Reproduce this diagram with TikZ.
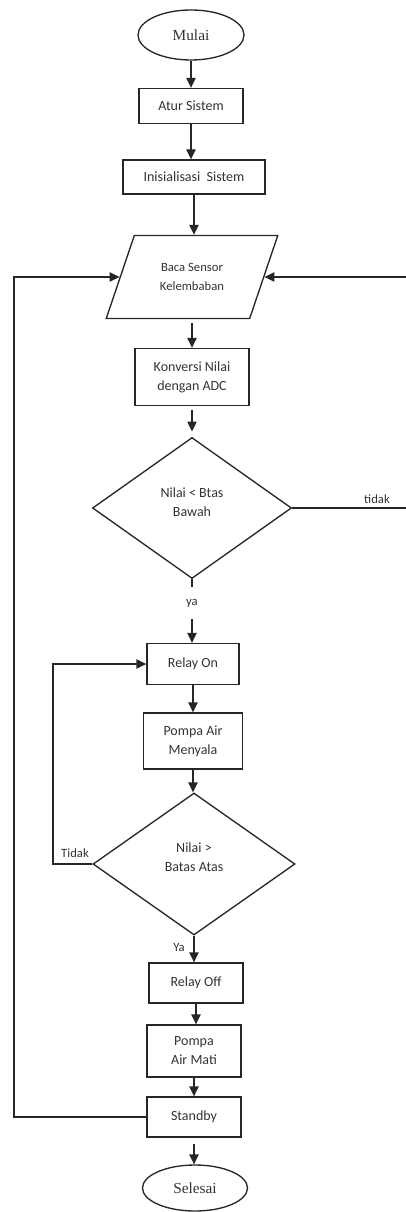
\documentclass[tikz,border=0pt]{standalone}
\usepackage{fontspec}
\setmainfont{Liberation Serif}
\newfontfamily\carl{Carlito}
\usetikzlibrary{arrows.meta,shapes.geometric}
\begin{document}
\begin{tikzpicture}[x=0.75pt,y=-0.75pt,
  every node/.style={text=black!80},
  line/.style={draw=black!85, line width=1pt},
  arr/.style={line, -{Triangle[length=7.5pt,width=7pt]}},
  box/.style={draw=black!85, line width=1pt, rectangle, align=center, inner sep=1pt, font=\carl\fontsize{10.5}{14.3}\selectfont},
  term/.style={draw=black!85, line width=1pt, ellipse, inner sep=1pt, font=\fontsize{11.5}{13}\selectfont},
  dia/.style={draw=black!85, line width=1pt, diamond, inner sep=0pt},
  io/.style={draw=black!85, line width=1pt, trapezium, trapezium left angle=61, trapezium right angle=119, trapezium stretches=true, inner sep=1pt, align=center, font=\carl\fontsize{9.5}{13.75}\selectfont},
  txt/.style={align=center, font=\carl\fontsize{10.5}{14.3}\selectfont},
  lbl/.style={font=\carl\fontsize{9.5}{11}\selectfont, inner sep=1pt}
]
\useasboundingbox (0,0) rectangle (406,1212);
\node[term, minimum width=79.5pt, minimum height=37.5pt] (mulai) at (191,35) {Mulai};
\node[box, minimum width=78pt, minimum height=26.25pt] (atur) at (191,106) {Atur Sistem};
\node[box, minimum width=106.5pt, minimum height=25.5pt] (init) at (194,177) {Inisialisasi\ \ Sistem};
\node[io, minimum width=129pt, minimum height=62.25pt] (baca) at (192,277) {Baca Sensor\\Kelembaban};
\node[box, minimum width=85.5pt, minimum height=42.75pt] (konv) at (192,377) {Konversi Nilai\\dengan ADC};
\node[dia, minimum width=149.25pt, minimum height=105.75pt] (d1) at (192,508) {};
\node[txt] (d1t) at (192,502) {Nilai < Btas\\Bawah};
\node[box, minimum width=69pt, minimum height=30.75pt] (on) at (193,664) {Relay On};
\node[box, minimum width=74.25pt, minimum height=42pt] (pompa) at (193,741) {Pompa Air\\Menyala};
\node[dia, minimum width=151.5pt, minimum height=106.5pt] (d2) at (194,864) {};
\node[txt] (d2t) at (194,857) {Nilai >\\Batas Atas};
\node[box, minimum width=70.5pt, minimum height=30pt] (off) at (196,983) {Relay Off};
\node[box, minimum width=70.5pt, minimum height=39pt] (mati) at (194,1051) {Pompa\\Air Mati};
\node[box, minimum width=70.5pt, minimum height=30pt] (stby) at (194,1117) {Standby};
\node[term, minimum width=78.75pt, minimum height=34.5pt] (selesai) at (195,1188) {Selesai};

\draw[arr] (mulai.south) -- (mulai.south |- atur.north);
\draw[arr] (atur.south) -- (atur.south |- init.north);
\draw[arr] (init.south) -- (init.south |- baca.north);
\draw[arr, shorten <=3pt] (konv.north |- baca.south) -- (konv.north);
\draw[arr, shorten <=3pt, shorten >=4pt] (konv.south) -- (konv.south |- d1.north);
\draw[arr] (d1.south) -- node[lbl, fill=white, pos=0.375, minimum height=24pt] (ya) {ya} (d1.south |- on.north);
\draw[arr] (on.south) -- (on.south |- pompa.north);
\draw[arr] (pompa.south) -- (pompa.south |- d2.north);
\draw[arr] (d2.south) -- (d2.south |- off.north);
\node[lbl] (ya2) at (179,947) {Ya};
\draw[arr] (off.south) -- (off.south |- mati.north);
\draw[arr] (mati.south) -- (mati.south |- stby.north);
\draw[arr, shorten <=5pt] (stby.south) -- (stby.south |- selesai.north);

\coordinate (rc) at (409,0);
\coordinate (lc2) at (53,0);
\coordinate (lc1) at (14,0);
\draw[arr] (d1.east) -- (d1.east -| rc) |- (baca.right side);
\node[lbl] (tidak) at (377,499) {tidak};
\draw[arr] (d2.west) -- (d2.west -| lc2) |- (on.west);
\node[lbl] (tidak2) at (75,853) {Tidak};
\draw[arr] (stby.west) -- (stby.west -| lc1) |- (baca.left side);
\end{tikzpicture}
\end{document}
